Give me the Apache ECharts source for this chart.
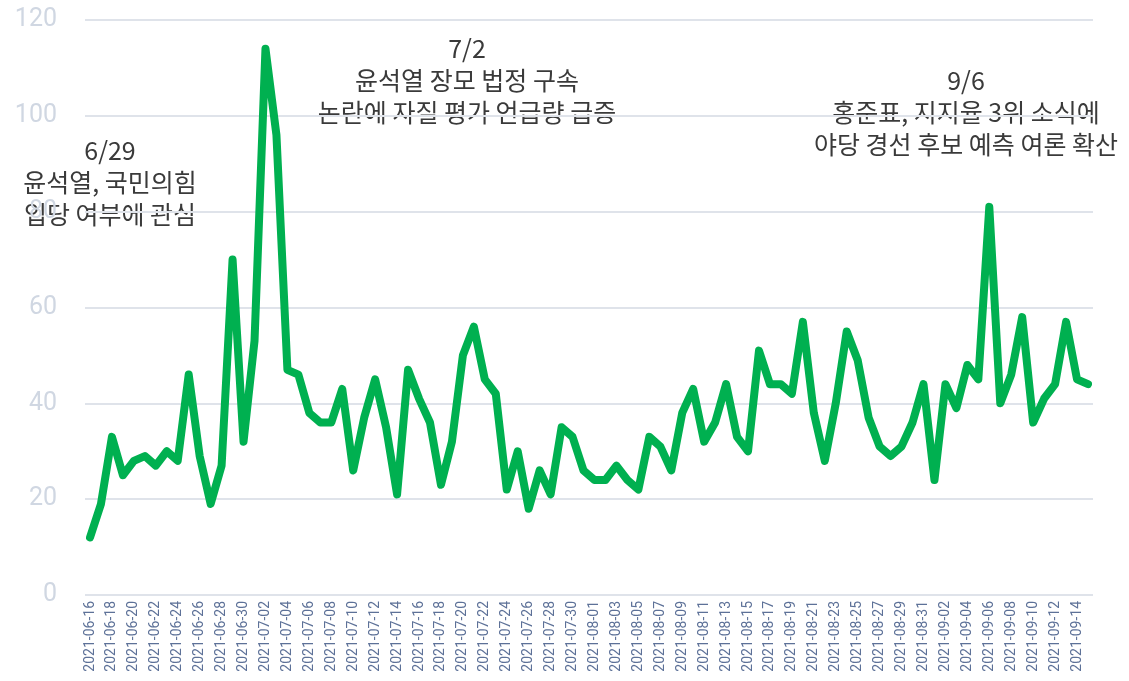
<!DOCTYPE html>
<html>
<head>
<meta charset="utf-8">
<script src="https://cdn.jsdelivr.net/npm/echarts@6/dist/echarts.min.js"></script>
<style>
  html, body { margin: 0; padding: 0; background: #fff; }
  #chart { width: 1129px; height: 681px; }
</style>
</head>
<body>
<div id="chart"></div>
<script>
// 일별 언급량 (2021-06-16 ~ 2021-09-15)
var startDate = '2021-06-16'
var dayCount = 92
var mentions = [
  12, 19, 33, 25, 28, 29, 27, 30, 28, 46, 29, 19, 27, 70, 32,          // 06-16 ~ 06-30
  53, 114, 96, 47, 46, 38, 36, 36, 43, 26, 37, 45, 35, 21, 47, 41,     // 07-01 ~ 07-16
  36, 23, 32, 50, 56, 45, 42, 22, 30, 18, 26, 21, 35, 33, 26,          // 07-17 ~ 07-31
  24, 24, 27, 24, 22, 33, 31, 26, 38, 43, 32, 36, 44, 33, 30, 51,      // 08-01 ~ 08-16
  44, 44, 42, 57, 38, 28, 40, 55, 49, 37, 31, 29, 31, 36, 44,          // 08-17 ~ 08-31
  24, 44, 39, 48, 45, 81, 40, 46, 58, 36, 41, 44, 57, 45, 44           // 09-01 ~ 09-15
]
var yTicks = [0, 20, 40, 60, 80, 100, 120]

// 주석 문구
var note1 = ['6/29', '윤석열, 국민의힘', '입당 여부에 관심']
var note2 = ['7/2', '윤석열 장모 법정 구속', '논란에 자질 평가 언급량 급증']
var note3 = ['9/6', '홍준표, 지지율 3위 소식에', '야당 경선 후보 예측 여론 확산']

function pad(n) { return n < 10 ? '0' + n : '' + n }
var dates = []
var d0 = new Date(startDate + 'T00:00:00Z')
for (var i = 0; i < dayCount; i++) {
  var d = new Date(d0.getTime() + i * 86400000)
  dates.push(d.getUTCFullYear() + '-' + pad(d.getUTCMonth() + 1) + '-' + pad(d.getUTCDate()))
}

var chart = echarts.init(document.getElementById('chart'), null, { renderer: 'canvas' })

function noteText(lines, cx, top) {
  return {
    type: 'text',
    x: cx,
    y: top,
    style: {
      text: lines.join('\n'),
      fill: '#3a3a3a',
      font: '25px "Noto Sans CJK KR", sans-serif',
      lineHeight: 32,
      align: 'center'
    }
  }
}

var yMin = yTicks[0]
var yMax = yTicks[yTicks.length - 1]

var option = {
  backgroundColor: '#ffffff',
  animation: false,
  // grid 0: 눈금선/ y축 라벨, grid 1: 데이터 선 (양 끝 여백)
  grid: [
    { left: 85, right: 36, top: 20, bottom: 86 },
    { left: 90, right: 41, top: 20, bottom: 86 }
  ],
  xAxis: [
    { gridIndex: 0, type: 'value', show: false, min: 0, max: 1 },
    {
      gridIndex: 1,
      type: 'category',
      data: dates,
      boundaryGap: false,
      axisLine: { show: false },
      axisTick: { show: false },
      axisLabel: {
        rotate: 90,
        interval: 1,
        margin: 6,
        color: '#5d7198',
        fontSize: 14,
        fontFamily: 'Roboto, sans-serif'
      },
      splitLine: { show: false }
    }
  ],
  yAxis: [
    {
      gridIndex: 0,
      type: 'value',
      min: yMin,
      max: yMax,
      interval: 20,
      axisLine: { show: false },
      axisTick: { show: false },
      axisLabel: {
        margin: 28,
        color: '#d0d7e2',
        fontSize: 25,
        fontFamily: 'Roboto, sans-serif'
      },
      splitLine: { lineStyle: { color: '#dfe3ea', width: 2 } }
    },
    { gridIndex: 1, type: 'value', min: yMin, max: yMax, show: false, splitLine: { show: false } }
  ],
  series: [{
    type: 'line',
    xAxisIndex: 1,
    yAxisIndex: 1,
    data: mentions,
    symbol: 'none',
    lineStyle: { color: '#00b050', width: 8, join: 'round', cap: 'round' },
    itemStyle: { color: '#00b050' }
  }],
  graphic: [
    noteText(note1, 110, 134),
    noteText(note2, 467, 32),
    noteText(note3, 966, 64)
  ]
}

chart.setOption(option)
</script>
</body>
</html>
